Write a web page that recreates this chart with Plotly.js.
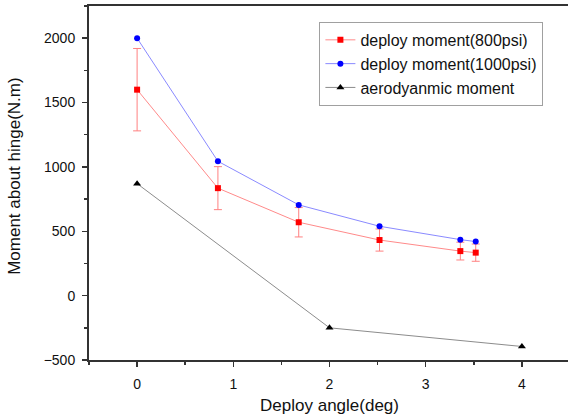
<!DOCTYPE html>
<html><head><meta charset="utf-8">
<script src="https://cdn.plot.ly/plotly-3.0.1.min.js"></script>
<style>html,body{margin:0;padding:0;overflow:hidden;background:#fff}#chart{width:575px;height:418px}</style>
</head><body><div id="chart"></div>
<script>
const angles800 = [0, 0.84, 1.68, 2.52, 3.36, 3.52];
const moment800 = [1600, 835, 570, 432, 346, 334];
const error800 = [320, 167, 114, 86, 69, 67];
const angles1000 = [0, 0.84, 1.68, 2.52, 3.36, 3.52];
const moment1000 = [2000, 1044, 705, 539, 435, 420];
const anglesAero = [0, 2, 4];
const momentAero = [870, -250, -395];
const seriesNames = ["deploy moment(800psi)", "deploy moment(1000psi)", "aerodyanmic moment"];
const xTicks = [0, 1, 2, 3, 4];
const yTicks = [-500, 0, 500, 1000, 1500, 2000];

const traces = [
  {x: angles800, y: moment800, name: seriesNames[0], mode: 'lines+markers',
   line: {color: '#ff8a8a', width: 1}, marker: {symbol: 'square', size: 6, color: '#ff0000'},
   error_y: {type: 'data', array: error800, visible: true, color: '#ff8080', thickness: 1, width: 4}},
  {x: angles1000, y: moment1000, name: seriesNames[1], mode: 'lines+markers',
   line: {color: '#8a8aff', width: 1}, marker: {symbol: 'circle', size: 6, color: '#0000ff'}},
  {x: anglesAero, y: momentAero, name: seriesNames[2], mode: 'lines+markers',
   line: {color: '#8c8c8c', width: 1}, marker: {symbol: 'triangle-up', size: 7, color: '#000000'}}
];

const font = {family: 'Liberation Sans, Arial, sans-serif', color: '#111'};
const layout = {
  width: 575, height: 418,
  margin: {l: 89, r: 5, t: 6, b: 58},
  paper_bgcolor: '#fff', plot_bgcolor: '#fff',
  font: font,
  showlegend: true,
  legend: {x: 0.479, y: 0.955, xanchor: 'left', yanchor: 'top', bgcolor: '#fff',
           bordercolor: '#a0a0a0', borderwidth: 1, font: {size: 16, family: font.family, color: '#111'},
           tracegroupgap: 0},
  xaxis: {range: [-0.5, 4.5], tickvals: xTicks, ticks: 'outside', ticklen: 5, tickwidth: 1.5, tickcolor: '#333',
          showline: true, linecolor: '#333', linewidth: 2, mirror: true, showgrid: false, zeroline: false,
          tickfont: {size: 14}, ticklabelstandoff: 5,
          minor: {dtick: 0.5, tick0: 0, ticks: 'outside', ticklen: 3, tickcolor: '#333', tickwidth: 1.5},
          title: {text: 'Deploy angle(deg)', font: {size: 17}, standoff: 8}},
  yaxis: {range: [-500, 2250], tickvals: yTicks, ticks: 'outside', ticklen: 5, tickwidth: 1.5, tickcolor: '#333',
          showline: true, linecolor: '#333', linewidth: 2, mirror: true, showgrid: false, zeroline: false,
          tickfont: {size: 14}, ticklabelstandoff: 4,
          minor: {dtick: 250, tick0: 0, ticks: 'outside', ticklen: 3, tickcolor: '#333', tickwidth: 1.5}},
  annotations: [{text: 'Moment about hinge(N.m)', textangle: -90, xref: 'paper', yref: 'paper',
                 x: -0.154, y: 0.52, xanchor: 'center', yanchor: 'middle', showarrow: false,
                 font: {size: 17}}]
};
Plotly.newPlot('chart', traces, layout, {displayModeBar: false, staticPlot: true});
</script></body></html>
